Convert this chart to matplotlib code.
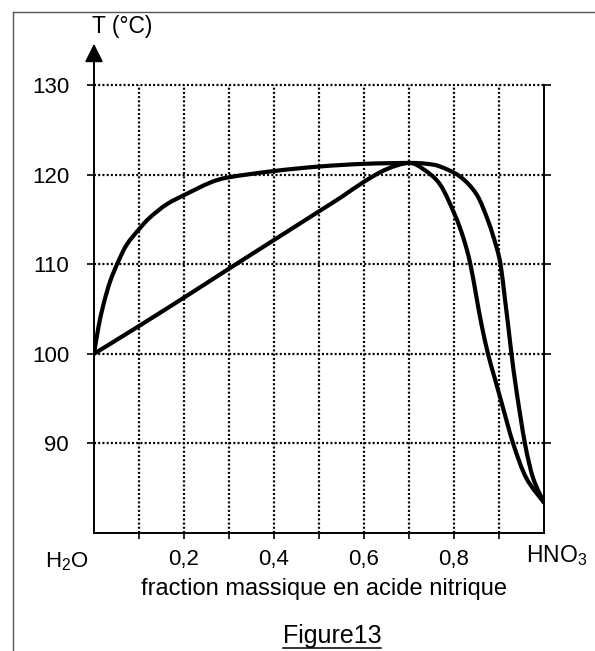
import matplotlib
matplotlib.use("Agg")
import matplotlib.pyplot as plt
from matplotlib.lines import Line2D
from matplotlib.path import Path
from matplotlib.patches import PathPatch

plt.rcParams['font.family'] = ['Liberation Sans', 'DejaVu Sans']
plt.rcParams['mathtext.fontset'] = 'custom'
plt.rcParams['mathtext.rm'] = 'Liberation Sans'
plt.rcParams['mathtext.it'] = 'Liberation Sans:italic'

# ---- data ----
# dew (vapour) curve
x_dew = [0, 0.0096, 0.021, 0.036, 0.054, 0.073, 0.1, 0.124, 0.162, 0.204, 0.258, 0.3,
         0.4, 0.5, 0.6, 0.7, 0.74, 0.769, 0.813, 0.85, 0.876, 0.895, 0.904,
         0.913, 0.921, 0.928, 0.939, 0.958, 0.976, 1.0]
T_dew = [100, 102.9, 105.5, 108.1, 110.3, 112.2, 113.9, 115.2, 116.7, 117.8, 119.1, 119.7,
         120.4, 120.9, 121.2, 121.3, 121.2, 120.9, 119.8, 117.8, 114.8, 111.8, 109.8,
         106.2, 102.9, 99.9, 95.8, 89.9, 86.1, 83.4]

# bubble (liquid) curve
x_bub = [0, 0.1, 0.204, 0.3, 0.4, 0.5, 0.55, 0.6, 0.65, 0.7, 0.732, 0.769, 0.802,
         0.821, 0.836, 0.85, 0.861, 0.876, 0.891, 0.906, 0.932, 0.961, 1.0]
T_bub = [100, 103.1, 106.4, 109.5, 112.7, 115.9, 117.5, 119.2, 120.6, 121.3, 120.6, 118.9, 115.5,
         112.9, 110.1, 106.3, 103.3, 99.9, 97.2, 94.5, 89.9, 86.1, 83.4]

y_ticks = [90, 100, 110, 120, 130]
x_grid = [0.1, 0.2, 0.3, 0.4, 0.5, 0.6, 0.7, 0.8, 0.9]
x_ticklabels = {0.2: "0,2", 0.4: "0,4", 0.6: "0,6", 0.8: "0,8"}

W, H = 595, 651
fig = plt.figure(figsize=(W / 100, H / 100), dpi=100)

def fx(px):
    return px / W

def fy(py):
    return 1 - py / H

ax = fig.add_axes([fx(94), fy(533), fx(544) - fx(94), fy(85) - fy(533)])
ax.set_xlim(0, 1)
ax.set_ylim(80, 130)

# dotted grid
dot = dict(color='black', lw=1.6, linestyle=(0, (0.9, 1.0)), dash_capstyle='butt',
           zorder=1, clip_on=False)
for xv in x_grid:
    ax.plot([xv, xv], [80, 130], **dot)
for yv in y_ticks:
    ax.plot([0, 1], [yv, yv], **dot)


def smooth_path(xs, ys):
    """Smooth curve through the read points (Catmull-Rom as cubic Bezier)."""
    pts = list(zip(xs, ys))
    n = len(pts)
    verts = [pts[0]]
    codes = [Path.MOVETO]
    for i in range(n - 1):
        p0 = pts[i - 1] if i > 0 else pts[i]
        p1 = pts[i]
        p2 = pts[i + 1]
        p3 = pts[i + 2] if i + 2 < n else pts[i + 1]
        c1 = (p1[0] + (p2[0] - p0[0]) / 6, p1[1] + (p2[1] - p0[1]) / 6)
        c2 = (p2[0] - (p3[0] - p1[0]) / 6, p2[1] - (p3[1] - p1[1]) / 6)
        verts += [c1, c2, p2]
        codes += [Path.CURVE4] * 3
    return Path(verts, codes)


for xs, ys in [(x_dew, T_dew), (x_bub, T_bub)]:
    ax.add_patch(PathPatch(smooth_path(xs, ys), fill=False, edgecolor='black', lw=3.0,
                           joinstyle='round', capstyle='round', zorder=3))

# spines
ax.spines['top'].set_visible(False)
ax.spines['left'].set_visible(False)
for s in ['right', 'bottom']:
    ax.spines[s].set_linewidth(1.4)

# left axis with arrow
ax.annotate('', xy=(0, 134.6), xytext=(0, 80), xycoords='data',
            arrowprops=dict(arrowstyle='-|>,head_length=1.1,head_width=0.55',
                            lw=1.4, color='black', shrinkA=0, shrinkB=0,
                            mutation_scale=10),
            annotation_clip=False, zorder=4)

# ticks
ax.set_xticks(x_grid)
ax.set_xticklabels([x_ticklabels.get(round(v, 1), "") for v in x_grid])
ax.set_yticks(y_ticks)
ax.set_yticklabels([str(v) for v in y_ticks])
ax.tick_params(axis='x', direction='out', length=4, width=1.2, pad=7.5, labelsize=16)
ax.tick_params(axis='y', direction='out', length=5, width=1.2, pad=13, labelsize=16,
               right=True, labelright=False)

# extra text
fig.text(fx(122), fy(27), "T (°C)", fontsize=16.5, ha='center', va='center')
fig.text(fx(67), fy(562), "H$_2$O", fontsize=16, ha='center', va='center')
fig.text(fx(557), fy(556), "HNO$_3$", fontsize=16.5, ha='center', va='center')
fig.text(fx(324), fy(589), "fraction massique en acide nitrique", fontsize=17,
         ha='center', va='center')
t = fig.text(fx(332), fy(636), "Figure13", fontsize=18, ha='center', va='center')
fig.canvas.draw()
bb = t.get_window_extent()
fig.add_artist(Line2D([bb.x0 / W, bb.x1 / W], [fy(648), fy(648)], color='black', lw=1.1))

# frame of the scanned figure
fig.add_artist(Line2D([fx(13), fx(13)], [fy(12), fy(651)], color='#555555', lw=1.0))
fig.add_artist(Line2D([fx(13), fx(595)], [fy(12), fy(12)], color='#555555', lw=1.0))

fig.savefig("out.png", dpi=100)
